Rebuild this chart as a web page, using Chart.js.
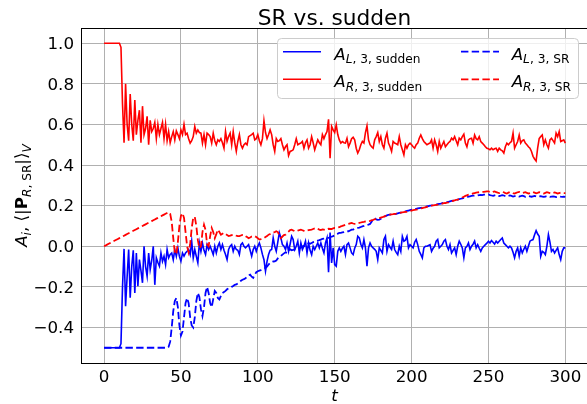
<!DOCTYPE html>
<html><head><meta charset="utf-8">
<script src="https://cdn.jsdelivr.net/npm/chart.js@4/dist/chart.umd.min.js"></script>
<style>html,body{margin:0;padding:0;background:#fff;overflow:hidden}canvas{display:block}</style>
</head><body>
<canvas id="c" width="587" height="404" style="width:587px;height:404px"></canvas>
<script>
// ---- data (t = 0..300, step 1) ----
const aLsudden = [
-.5,-.5,-.5,-.5,-.5,-.5,-.5,-.5,-.5,-.5,
-.5,-.48,-.20,-.013,-.295,-.15,-.016,-.254,-.10,-.02,
-.23,-.033,-.197,-.066,-.12,-.18,0,-.10,-.147,-.033,
-.115,-.07,0,-.19,-.057,-.08,-.098,-.033,-.074,-.049,
-.09,-.016,-.057,-.04,-.033,-.066,-.016,-.049,-.008,-.05,
-.074,-.033,-.049,-.033,-.025,-.016,-.041,.025,-.057,-.016,
-.05,-.082,.016,-.025,.016,-.02,-.041,.008,-.016,0,
-.02,-.041,0,-.033,0,.016,-.016,.008,-.02,-.041,
-.066,-.016,0,.008,-.025,0,-.016,-.02,-.041,.008,
.016,0,-.008,0,.008,-.02,-.049,-.016,0,-.025,
0,.016,-.008,-.04,-.066,-.123,-.074,-.041,-.02,-.016,
.041,0,-.025,.02,.066,.041,.008,0,-.016,.016,
-.025,.01,.049,.033,-.016,0,.025,-.033,.016,-.016,
0,.025,-.033,.016,-.02,-.041,0,-.016,0,.016,
-.008,.016,-.01,-.033,.016,.041,-.128,.067,-.082,-.008,
-.09,-.098,-.025,-.008,-.025,-.01,0,-.041,.008,.016,
-.008,-.033,-.041,-.01,.008,.049,.041,.01,-.008,.033,
-.008,-.098,-.008,.016,0,-.008,-.015,-.025,-.066,-.008,
-.02,-.033,.033,.049,-.025,.008,-.005,-.016,.025,-.016,
-.03,-.041,0,-.025,.049,.025,.03,.049,-.008,.008,
0,-.008,.02,.033,.008,-.025,-.04,-.057,-.008,0,
0,.004,.008,-.025,-.01,0,.025,.033,-.008,0,
.008,.025,.033,0,-.016,.008,-.033,-.02,-.008,-.041,
0,.025,.01,-.008,-.057,-.008,0,.016,-.016,0,
.01,.025,-.008,.008,-.01,-.025,-.008,0,.008,.015,
.025,.016,.028,.02,.011,.025,.016,.025,.033,.041,
.016,.008,0,-.008,0,-.008,-.03,-.057,-.025,-.008,
-.049,-.008,-.033,-.015,0,-.025,0,.025,.03,.033,
.057,.077,.06,.049,-.049,-.025,-.03,-.041,0,.057,
.02,-.025,-.016,-.033,-.02,-.008,-.041,-.066,-.025,-.008,
-.008];
const aRsudden = [
1,1,1,1,1,1,1,1,1,1,
1,.98,.70,.51,.80,.60,.52,.75,.60,.52,
.72,.55,.62,.67,.51,.69,.55,.58,.64,.50,
.62,.565,.58,.61,.53,.60,.55,.58,.61,.53,
.60,.52,.565,.51,.54,.565,.524,.568,.55,.53,
.573,.55,.60,.55,.557,.53,.508,.52,.54,.59,
.557,.573,.56,.557,.508,.55,.50,.557,.55,.54,
.508,.557,.52,.50,.524,.516,.53,.51,.483,.565,
.516,.54,.557,.50,.565,.51,.467,.516,.55,.50,
.483,.50,.508,.50,.54,.545,.55,.557,.524,.53,
.55,.52,.50,.53,.618,.56,.53,.55,.573,.55,
.50,.467,.53,.516,.52,.53,.50,.475,.49,.50,
.447,.467,.47,.475,.50,.53,.50,.505,.508,.516,
.483,.51,.524,.483,.50,.54,.51,.475,.50,.524,
.51,.50,.55,.53,.55,.565,.625,.434,.59,.573,
.56,.598,.55,.524,.508,.516,.51,.508,.532,.49,
.508,.53,.537,.524,.483,.459,.475,.50,.516,.508,
.56,.593,.524,.50,.49,.483,.524,.54,.56,.516,
.54,.50,.483,.532,.557,.508,.49,.467,.516,.508,
.505,.50,.54,.50,.475,.45,.50,.483,.50,.508,
.50,.49,.483,.50,.508,.532,.548,.53,.516,.508,
.50,.505,.508,.524,.483,.524,.50,.467,.516,.483,
.50,.516,.49,.50,.51,.516,.532,.524,.54,.52,
.50,.532,.524,.54,.552,.508,.49,.524,.53,.532,
.508,.548,.53,.524,.54,.516,.508,.50,.49,.483,
.48,.475,.483,.475,.48,.483,.467,.483,.475,.47,
.459,.49,.508,.50,.51,.516,.557,.483,.50,.516,
.548,.508,.52,.524,.508,.50,.49,.483,.467,.443,
.43,.42,.483,.53,.54,.548,.50,.524,.50,.483,
.524,.532,.52,.508,.557,.54,.565,.516,.52,.524,
.508];
const aLsr = [
-.5,-.5,-.5,-.5,-.5,-.5,-.5,-.5,-.5,-.5,
-.5,-.5,-.5,-.5,-.5,-.5,-.5,-.5,-.5,-.5,
-.5,-.5,-.5,-.5,-.5,-.5,-.5,-.5,-.5,-.5,
-.5,-.5,-.5,-.5,-.5,-.5,-.5,-.5,-.5,-.5,
-.5,-.5,-.495,-.47,-.40,-.32,-.27,-.255,-.30,-.39,
-.44,-.42,-.35,-.28,-.255,-.28,-.35,-.39,-.40,-.35,
-.27,-.23,-.25,-.31,-.344,-.30,-.23,-.20,-.23,-.28,
-.30,-.26,-.22,-.23,-.255,-.262,-.245,-.23,-.225,-.22,
-.212,-.207,-.205,-.2,-.196,-.19,-.188,-.183,-.178,-.17,
-.165,-.162,-.158,-.15,-.143,-.14,-.15,-.156,-.14,-.128,
-.123,-.12,-.118,-.115,-.11,-.106,-.1,-.09,-.082,-.078,
-.075,-.074,-.07,-.06,-.052,-.048,-.041,-.035,-.03,-.033,
-.025,-.015,-.02,-.018,-.016,-.015,-.012,-.01,-.006,0,
.002,0,.008,.016,.012,.016,.02,.022,.025,.028,
.03,.033,.036,.038,.04,.041,.041,.045,.047,.05,
.055,.06,.062,.066,.066,.068,.07,.072,.074,.074,
.078,.082,.082,.086,.088,.09,.092,.095,.098,.1,
.103,.105,.107,.11,.12,.135,.139,.132,.13,.131,
.135,.14,.145,.148,.152,.155,.156,.157,.158,.158,
.16,.162,.164,.166,.168,.17,.172,.174,.176,.178,
.18,.181,.182,.184,.186,.188,.189,.19,.192,.194,
.196,.198,.2,.201,.203,.204,.205,.207,.209,.21,
.212,.214,.215,.217,.219,.221,.223,.225,.227,.229,
.23,.232,.234,.236,.238,.24,.242,.244,.246,.248,
.249,.25,.251,.25,.252,.253,.252,.254,.255,.254,
.255,.252,.25,.248,.251,.253,.25,.247,.249,.252,
.25,.247,.245,.248,.25,.248,.245,.247,.25,.248,
.245,.247,.249,.247,.244,.246,.248,.246,.244,.246,
.248,.246,.244,.246,.247,.245,.243,.245,.247,.245,
.243,.245,.246,.244,.242,.244,.246,.244,.243,.244,
.243];
const aRsr = [
0,.004,.008,.012,.016,.02,.024,.028,.032,.036,
.04,.044,.048,.052,.056,.06,.064,.068,.072,.076,
.08,.084,.088,.092,.096,.1,.104,.108,.112,.116,
.12,.124,.128,.132,.136,.14,.144,.148,.152,.156,
.16,.164,.168,.16,.12,.04,-.03,-.04,.02,.10,
.15,.163,.14,.07,0,-.03,.01,.09,.14,.145,
.10,.03,-.01,0,.07,.106,.08,.01,0,.05,
.09,.07,.04,.06,.082,.07,.057,.062,.066,.06,
.055,.05,.052,.055,.057,.055,.052,.05,.05,.053,
.056,.057,.05,.045,.04,.043,.048,.05,.05,.045,
.04,.033,.035,.038,.04,.045,.05,.057,.06,.066,
.068,.07,.074,.07,.055,.04,.048,.055,.057,.065,
.072,.08,.082,.078,.074,.074,.077,.08,.082,.079,
.076,.074,.077,.079,.081,.082,.085,.088,.09,.086,
.082,.08,.083,.082,.08,.083,.086,.085,.085,.088,
.09,.09,.092,.094,.098,.1,.103,.106,.108,.11,
.113,.115,.112,.11,.11,.113,.115,.117,.119,.12,
.122,.123,.123,.125,.128,.13,.133,.135,.137,.139,
.141,.143,.146,.149,.152,.155,.156,.157,.158,.16,
.161,.163,.164,.166,.167,.168,.169,.17,.172,.174,
.176,.178,.179,.18,.182,.183,.186,.188,.19,.192,
.194,.197,.198,.2,.201,.203,.204,.205,.206,.208,
.21,.212,.213,.215,.216,.219,.222,.224,.226,.228,
.23,.233,.236,.24,.244,.248,.251,.254,.256,.258,
.26,.262,.264,.265,.266,.267,.268,.268,.269,.27,
.27,.268,.265,.268,.27,.267,.264,.262,.265,.268,
.266,.262,.26,.264,.267,.265,.262,.26,.263,.266,
.268,.265,.262,.264,.266,.263,.26,.262,.265,.267,
.264,.261,.263,.266,.264,.262,.26,.263,.266,.264,
.262,.26,.263,.265,.263,.26,.262,.264,.263,.262,
.262];
const t = aLsudden.map((_, i) => i);           // time axis categories
const xTicks = [0, 50, 100, 150, 200, 250, 300];
const yTicks = [-0.4, -0.2, 0.0, 0.2, 0.4, 0.6, 0.8, 1.0];
const titleText = 'SR vs. sudden';

// ---- styling ----
const FAM = '"DejaVu Sans", sans-serif';
const FS = 16.7, SUB = 12.2;
const BLUE = '#0000ff', RED = '#ff0000';
const DASH = [7.4, 3.3];

const pts = arr => arr.map((v, i) => ({ x: t[i], y: v }));

function font(style, size) {
  const s = style === 'i' ? 'italic ' : style === 'b' ? 'bold ' : '';
  return s + size + 'px ' + FAM;
}
// parts: [text, style, size, dy]
function richWidth(ctx, parts) {
  let w = 0;
  for (const p of parts) { ctx.font = font(p[1], p[2]); w += ctx.measureText(p[0]).width; }
  return w;
}
function drawRich(ctx, x, y, parts) {
  let cx = x;
  ctx.textBaseline = 'alphabetic'; ctx.textAlign = 'left';
  for (const p of parts) {
    ctx.font = font(p[1], p[2]);
    ctx.fillText(p[0], cx, y + (p[3] || 0));
    cx += ctx.measureText(p[0]).width;
  }
}
const SDY = 3.6;
const legendItems = [
  { color: BLUE, dash: [], col: 0, row: 0, parts: [['A','i',FS],['L','i',SUB,SDY],[', 3, sudden','',SUB,SDY]] },
  { color: RED,  dash: [], col: 0, row: 1, parts: [['A','i',FS],['R','i',SUB,SDY],[', 3, sudden','',SUB,SDY]] },
  { color: BLUE, dash: DASH, col: 1, row: 0, parts: [['A','i',FS],['L','i',SUB,SDY],[', 3, SR','',SUB,SDY]] },
  { color: RED,  dash: DASH, col: 1, row: 1, parts: [['A','i',FS],['R','i',SUB,SDY],[', 3, SR','',SUB,SDY]] },
];
const yLabelParts = [['A','i',FS],['i','i',SUB,SDY],[', ','',FS],['\u27E8|','',FS],['P','b',FS],
  ['R','i',SUB,SDY],[', SR','',SUB,SDY],['|\u27E9','',FS],['V','i',SUB,SDY]];

const decor = {
  id: 'decor',
  afterDraw(chart) {
    const ctx = chart.ctx, ca = chart.chartArea;
    ctx.save();
    // top spine
    ctx.strokeStyle = '#000'; ctx.lineWidth = 1;
    ctx.beginPath(); ctx.moveTo(ca.left, ca.top + 0.5); ctx.lineTo(ca.right, ca.top + 0.5); ctx.stroke();
    // title
    ctx.fillStyle = '#000';
    ctx.font = '21.7px ' + FAM; ctx.textAlign = 'center'; ctx.textBaseline = 'alphabetic';
    ctx.fillText(titleText, (ca.left + 588) / 2, 24.5);
    // x label
    ctx.font = font('i', FS);
    ctx.fillText('t', (ca.left + 588) / 2, 401);
    // y label
    ctx.save();
    ctx.translate(27, (ca.top + ca.bottom) / 2);
    ctx.rotate(-Math.PI / 2);
    const w = richWidth(ctx, yLabelParts);
    drawRich(ctx, -w / 2, 0, yLabelParts);
    ctx.restore();
    // legend
    const bx = 277, by = 38, bw = 301, bh = 60;
    ctx.beginPath(); ctx.roundRect(bx + 0.5, by + 0.5, bw, bh, 4);
    ctx.fillStyle = 'rgba(255,255,255,0.8)'; ctx.fill();
    ctx.strokeStyle = '#cccccc'; ctx.lineWidth = 1; ctx.stroke();
    const colX = [283, 461], textX = [334.3, 511.7], rowY = [51.7, 79.3];
    for (const it of legendItems) {
      const ly = rowY[it.row];
      ctx.strokeStyle = it.color; ctx.lineWidth = it.dash.length ? 1.8 : 1.6;
      ctx.setLineDash(it.dash);
      ctx.beginPath(); ctx.moveTo(colX[it.col], ly); ctx.lineTo(colX[it.col] + 38, ly); ctx.stroke();
      ctx.setLineDash([]);
      ctx.fillStyle = '#000';
      drawRich(ctx, textX[it.col], ly + 8, it.parts);
    }
    ctx.restore();
  }
};

new Chart(document.getElementById('c').getContext('2d'), {
  type: 'line',
  data: {
    datasets: [
      { label: 'A_R,3,SR', data: pts(aRsr), borderColor: RED, borderWidth: 1.8, borderDash: DASH, order: 0 },
      { label: 'A_L,3,SR', data: pts(aLsr), borderColor: BLUE, borderWidth: 1.8, borderDash: DASH, order: 1 },
      { label: 'A_R,3,sudden', data: pts(aRsudden), borderColor: RED, borderWidth: 1.6, order: 2 },
      { label: 'A_L,3,sudden', data: pts(aLsudden), borderColor: BLUE, borderWidth: 1.6, order: 3 },
    ]
  },
  options: {
    responsive: false, animation: false, devicePixelRatio: 1,
    layout: { padding: { top: 28, left: 0, right: 0, bottom: 0 } },
    elements: { point: { radius: 0 }, line: { tension: 0, fill: false } },
    plugins: { legend: { display: false }, title: { display: false }, tooltip: { enabled: false } },
    scales: {
      x: {
        type: 'linear', min: -15, max: 314.1,
        afterBuildTicks: s => { s.ticks = xTicks.map(v => ({ value: v })); },
        afterFit: s => { s.height = 41; },
        grid: { color: '#b0b0b0', lineWidth: 1, drawTicks: false },
        border: { color: '#000', width: 1 },
        ticks: { font: { family: FAM, size: FS }, color: '#000', padding: 5, maxRotation: 0, autoSkip: false,
                 callback: v => String(v) }
      },
      y: {
        type: 'linear', min: -0.575, max: 1.075,
        afterBuildTicks: s => { s.ticks = yTicks.map(v => ({ value: v })); },
        afterFit: s => { s.width = 81; },
        grid: { color: '#b0b0b0', lineWidth: 1, drawTicks: false },
        border: { color: '#000', width: 1 },
        ticks: { font: { family: FAM, size: FS }, color: '#000', padding: 7, labelOffset: 1.5, autoSkip: false,
                 callback: v => (v < -1e-9 ? '\u2212' : '') + Math.abs(v).toFixed(1) }
      }
    }
  },
  plugins: [decor]
});
</script>
</body></html>
